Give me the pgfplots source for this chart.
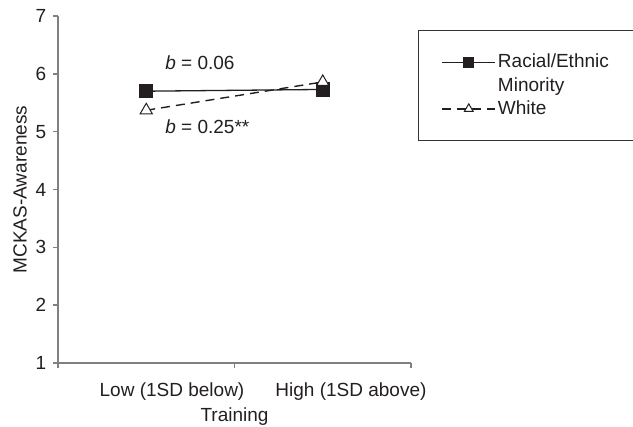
\documentclass[border=0pt]{standalone}
\usepackage{fontspec}
\setmainfont{Liberation Sans}
\usepackage{pgfplots}
\pgfplotsset{compat=1.18}
\definecolor{axisgray}{HTML}{808080}
\definecolor{ink}{HTML}{231F20}
\begin{document}
\fontsize{9.5pt}{11pt}\selectfont
\begin{tikzpicture}
\begin{axis}[
 scale only axis, width=176.5pt, height=173.5pt,
 xmin=0, xmax=2, ymin=1, ymax=7,
 axis lines=left,
 axis line style={-, draw=axisgray, line width=0.9pt},
 ytick={1,2,3,4,5,6,7},
 xtick={0,1,2}, xticklabels={},
 extra x ticks={0.646,1.66},
 extra x tick labels={Low (1SD below), High (1SD above)},
 extra x tick style={tick style={draw=none}},
 tick style={draw=axisgray, line width=0.7pt},
 tick align=outside, major tick length=2.5pt,
 ticklabel style={text=ink},
 /pgf/number format/assume math mode=true,
 font=\fontsize{9.5pt}{11pt}\selectfont,
 xticklabel style={yshift=-4pt},
 xlabel={Training},
 ylabel={MCKAS-Awareness},
 xlabel style={at={(rel axis cs:0.5,0)}, anchor=center, yshift=-27pt, text=ink},
 ylabel style={at={(rel axis cs:0,0.5)}, anchor=center, yshift=19pt, text=ink},
 clip=false,
 legend style={at={(rel axis cs:1.0198,0.9597)}, anchor=north west,
   draw=black!80, line width=0.6pt, inner xsep=11.5pt, inner ysep=9.75pt,
   row sep=-0.7pt, column sep=-1pt, text=ink,
   cells={anchor=west},
   font=\fontsize{9.5pt}{11pt}\selectfont},
 legend image code/.code={\draw[mark repeat=2,mark phase=2,#1,mark size=2.5pt] plot coordinates {(0pt,0pt)(13.25pt,0pt)(26.5pt,0pt)};},
]
\addplot[ink, line width=0.65pt, mark=square*, mark size=3.25pt, mark options={solid, fill=ink}]
 coordinates {(0.5,5.70) (1.5,5.73)};
\addlegendentry{\makebox[62pt][l]{Racial/Ethnic}}
\addlegendimage{empty legend}
\addlegendentry{Minority}
\addplot[ink, line width=0.7pt, dash pattern=on 4.5pt off 3pt, mark=triangle*, mark size=3.5pt, mark options={solid, fill=white, draw=ink, line width=0.5pt}]
 coordinates {(0.5,5.37) (1.5,5.86)};
\addlegendentry{White}
\node[anchor=west, text=ink, inner sep=0pt] at (axis cs:0.606,6.19) {\textit{b} = 0.06};
\node[anchor=west, text=ink, inner sep=0pt] at (axis cs:0.606,5.08) {\textit{b} = 0.25**};
\end{axis}
\pgfresetboundingbox
\useasboundingbox (-29pt,-32pt) rectangle (287.5pt,181.5pt);
\end{tikzpicture}
\end{document}
